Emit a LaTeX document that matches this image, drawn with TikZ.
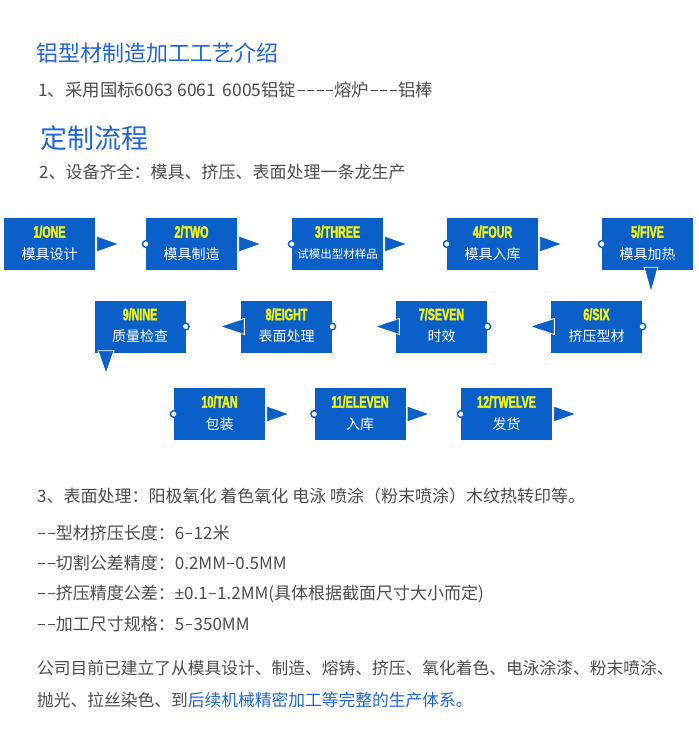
\documentclass[tikz,border=0pt]{standalone}
\usepackage{fontspec}
\usepackage{xcolor}
\usetikzlibrary{positioning,calc}
\setmainfont{Noto Sans CJK SC}[Ligatures=TeXOff]
\newfontfamily\numfont[FakeStretch=0.65,FakeBold=2]{Liberation Sans}
\newfontfamily\latinfont{Liberation Sans}
\newcommand{\hy}{\makebox[0.55em]{\rule[0.3em]{0.4em}{0.07em}}}

\definecolor{boxblue}{HTML}{0B5FC9}
\definecolor{titleblue}{HTML}{1F66D8}
\definecolor{numyellow}{HTML}{F4F40A}
\definecolor{txtgrey}{HTML}{4D4D4D}

\tikzset{
	procbox/.style={rectangle, fill=boxblue, minimum width=91pt, minimum height=52pt, inner sep=0},
	numtxt/.style={inner sep=0, text=numyellow, font=\numfont\bfseries\fontsize{16.5}{16.5}\selectfont},
	cntxt/.style={inner sep=0, text=white, font=\fontsize{14}{14}\selectfont},
	hole/.style={fill=white, draw=boxblue, line width=1.4pt},
	pointer/.style={fill=boxblue, draw=white, line width=0.9pt},
	heading/.style={anchor=west, inner sep=0, text=titleblue},
	body/.style={anchor=west, inner sep=0, text=txtgrey, font=\fontsize{17}{17}\selectfont}
}

\begin{document}
\begin{tikzpicture}[x=1pt, y=-1pt]
	\fill[white] (0,0) rectangle (698,751);
	\useasboundingbox (0,0) rectangle (698,751);

	% headings and first lines
	\node[heading, font=\fontsize{22}{22}\selectfont] (title) at (36,53) {铝型材制造加工工艺介绍};
	\node[body, font=\fontsize{17.4}{17.4}\selectfont] (line1) at (38,90) {1、采用国标6063 6061 \,6005铝锭\hy{}\hy{}\hy{}\hy{}熔炉\hy{}\hy{}\hy{}铝棒};
	\node[heading, font=\fontsize{27}{27}\selectfont] (flow) at (40,138) {定制流程};
	\node[body] (line2) at (39,172) {2、设备齐全：模具、挤压、表面处理一条龙生产};

	% process boxes
	\foreach \nm/\px/\py/\nr/\word/\txt in {
		b1/49.5/244/1/ONE/模具设计,
		b2/191.5/244/2/TWO/模具制造,
		b3/337.5/244/3/THREE/{\fontsize{11.5}{12}\selectfont 试模出型材样品},
		b4/492.5/244/4/FOUR/模具入库,
		b5/647.5/244/5/FIVE/模具加热,
		b6/596.5/326.5/6/SIX/挤压型材,
		b7/441.5/326.5/7/SEVEN/时效,
		b8/286.5/326.5/8/EIGHT/表面处理,
		b9/140/326.5/9/NINE/质量检查,
		b10/219.5/414/10/TAN/包装,
		b11/360/414/11/ELEVEN/入库,
		b12/506.5/414/12/TWELVE/发货}
	{
		\node[procbox] (\nm) at (\px,\py) {};
		\node[numtxt] at ([yshift=-14pt]\nm.north) {\nr/\word};
		\node[cntxt] at ([yshift=-36pt]\nm.north) {\txt};
	}

	% joints and pointers
	\foreach \bx in {b2,b3,b4,b5,b10,b11,b12}
		\draw[hole] (\bx.west) circle (3.4pt);
	\foreach \bx in {b6,b7,b8,b9}
		\draw[hole] (\bx.east) circle (3.4pt);
	\foreach \bx in {b1,b2,b3,b4,b10,b11,b12}
		\filldraw[pointer] ([xshift=1.5pt,yshift=-8pt]\bx.east) -- ([xshift=24pt]\bx.east) -- ([xshift=1.5pt,yshift=8pt]\bx.east) -- cycle;
	\foreach \bx in {b6,b7,b8}
		\filldraw[pointer] ([xshift=3.5pt,yshift=-8pt]\bx.west) -- ([xshift=-21pt]\bx.west) -- ([xshift=3.5pt,yshift=8pt]\bx.west) -- cycle;
	\filldraw[pointer] ([xshift=-3.5pt,yshift=3pt]b5.south) -- ([xshift=10.5pt,yshift=3pt]b5.south) -- ([xshift=3.5pt,yshift=-22pt]b5.south) -- cycle;
	\filldraw[pointer] ([xshift=-42pt,yshift=2pt]b9.south) -- ([xshift=-26pt,yshift=2pt]b9.south) -- ([xshift=-34pt,yshift=-21pt]b9.south) -- cycle;

	% notes
	\node[body] (note3) at (37,496) {3、表面处理：阳极氧化 着色氧化 电泳 喷涂（粉末喷涂）木纹热转印等。};
	\node[body] (len) at (37,533) {\hy{}\hy{}型材挤压长度：6\hy{}12米};
	\node[body] (cut) at (37,563) {\hy{}\hy{}切割公差精度：0.2MM\hy{}0.5MM};
	\node[body] (tol) at (37,594) {\hy{}\hy{}挤压精度公差：{\latinfont ±}0.1\hy{}1.2MM(具体根据截面尺寸大小而定)};
	\node[body] (size) at (37,624) {\hy{}\hy{}加工尺寸规格：5\hy{}350MM};
	\node[body, font=\fontsize{16.75}{16.75}\selectfont] (para1) at (37,668) {公司目前已建立了从模具设计、制造、熔铸、挤压、氧化着色、电泳涂漆、粉末喷涂、};
	\node[body, font=\fontsize{16.75}{16.75}\selectfont] (para2) at (37,700) {抛光、拉丝染色、到\textcolor{titleblue}{后续机械精密加工等完整的生产体系。}};
\end{tikzpicture}
\end{document}
